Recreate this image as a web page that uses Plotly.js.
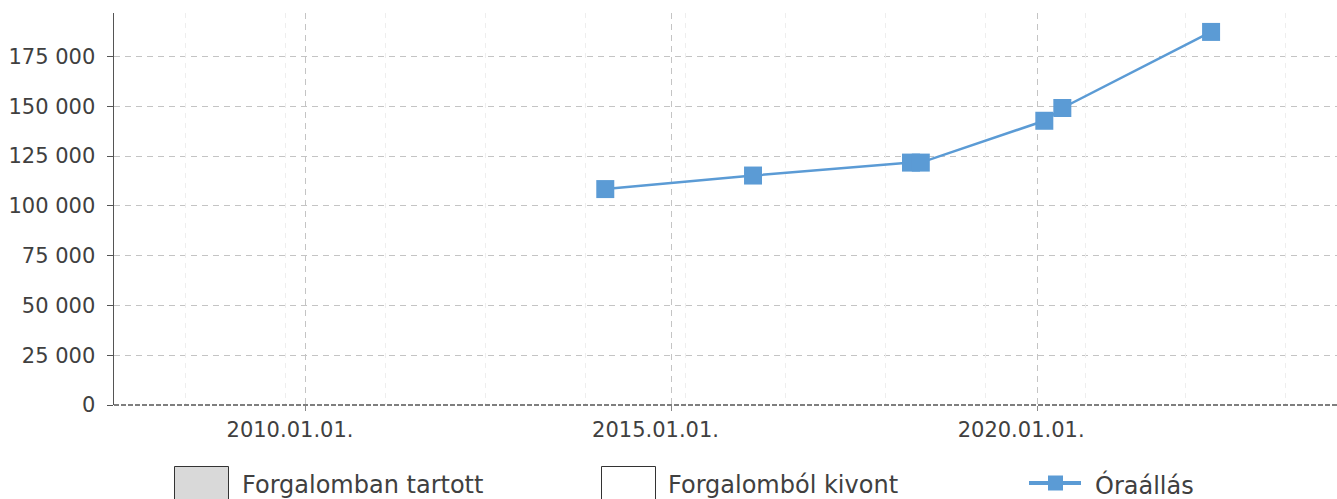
<!DOCTYPE html>
<html>
<head>
<meta charset="utf-8">
<script src="https://cdn.plot.ly/plotly-3.0.1.min.js"></script>
<style>html,body{margin:0;padding:0;background:#fff;}#chart{width:1337px;height:499px;}</style>
</head>
<body>
<div id="chart"></div>
<script>
// ---- data ----
var dates = ['2014-02-04', '2016-02-12', '2018-04-11', '2018-05-30', '2020-02-06', '2020-05-06', '2022-05-19'];
var oraallas = [108400, 115200, 121700, 121700, 142700, 149100, 187300];
var xTickVals = ['2010-01-01', '2015-01-01', '2020-01-01'];
var xTickText = ['2010.01.01.', '2015.01.01.', '2020.01.01.'];
var legendLabels = ['Forgalomban tartott', 'Forgalomból kivont', 'Óraállás'];
var seriesName = 'Óraállás';

// ---- layout helpers (pixel -> paper) ----
var W = 1337, H = 499, L = 114, R = 0, T = 13, B = 94;
var PW = W - L - R, PH = H - T - B;
function px(x) { return (x - L) / PW; }
function py(y) { return (H - B - y) / PH; }

var font = 'DejaVu Sans, sans-serif';
var textColor = '#404040';
var blue = '#5b9bd5';

var traces = [
  {
    type: 'scatter', mode: 'lines+markers', name: seriesName,
    x: dates, y: oraallas,
    line: {color: blue, width: 2.5},
    marker: {symbol: 'square', size: 18, color: blue},
    showlegend: false, cliponaxis: false
  },
  {
    // invisible helper for minor vertical grid
    type: 'scatter', x: [L, W], y: [null, null], xaxis: 'x2', yaxis: 'y',
    showlegend: false, hoverinfo: 'skip'
  }
];

var shapes = [
  // bottom dashed axis line
  {type: 'line', xref: 'paper', yref: 'paper', x0: 0, x1: 1, y0: 0, y1: 0,
   line: {color: '#555555', width: 1.5, dash: '5px,2px'}},
  // legend boxes
  {type: 'rect', xref: 'paper', yref: 'paper', x0: px(174.5), x1: px(228.5), y0: py(466.5), y1: py(503),
   fillcolor: '#d9d9d9', line: {color: '#333333', width: 1}},
  {type: 'rect', xref: 'paper', yref: 'paper', x0: px(601.5), x1: px(655.5), y0: py(466.5), y1: py(503),
   fillcolor: '#ffffff', line: {color: '#333333', width: 1}},
  // legend line
  {type: 'line', xref: 'paper', yref: 'paper', x0: px(1029), x1: px(1081), y0: py(483), y1: py(483),
   line: {color: blue, width: 4}},
  {type: 'rect', xref: 'paper', yref: 'paper', x0: px(1048), x1: px(1063), y0: py(475.5), y1: py(490.5),
   fillcolor: blue, line: {width: 0}}
];

var legX = [241, 667, 1094];
var annotations = legendLabels.map(function (t, i) {
  return {text: t, xref: 'paper', yref: 'paper', x: px(legX[i]), y: py(484.5),
          xanchor: 'left', yanchor: 'middle', showarrow: false, borderpad: 0,
          font: {family: font, size: 24, color: textColor}};
});

var layout = {
  width: W, height: H,
  margin: {l: L, r: R, t: T, b: B, pad: 0},
  paper_bgcolor: '#ffffff', plot_bgcolor: '#ffffff',
  separators: ', ',
  showlegend: false,
  font: {family: font, size: 21, color: textColor},
  xaxis: {
    type: 'date', range: ['2007-05-18', '2024-02-07'],
    tickmode: 'array', tickvals: xTickVals, ticktext: xTickText,
    showgrid: true, gridcolor: '#c4c4c4', griddash: '6px,5px', gridwidth: 1,
    ticks: 'outside', ticklen: 5, tickcolor: '#888888', tickwidth: 1,
    ticklabelshift: -16, ticklabelstandoff: 1,
    showline: false, zeroline: false,
    tickfont: {family: font, size: 21, color: textColor}
  },
  xaxis2: {
    overlaying: 'x', range: [L, W], tickmode: 'linear', tick0: 185, dtick: 100,
    showgrid: true, gridcolor: '#eeeeee', griddash: '5px,5px', gridwidth: 1,
    showticklabels: false, ticks: '', zeroline: false, showline: false, layer: 'below traces'
  },
  yaxis: {
    range: [0, 196800], tickmode: 'linear', tick0: 0, dtick: 25000, tickformat: ',d',
    showgrid: true, gridcolor: '#c4c4c4', griddash: '6px,5px', gridwidth: 1,
    ticks: 'outside', ticklen: 6, tickcolor: '#555555', tickwidth: 1,
    ticklabelstandoff: 7,
    showline: true, linecolor: '#555555', linewidth: 1.5,
    zeroline: false,
    tickfont: {family: font, size: 21, color: textColor}
  },
  shapes: shapes,
  annotations: annotations
};

Plotly.newPlot('chart', traces, layout, {staticPlot: true, displayModeBar: false});
</script>
</body>
</html>
